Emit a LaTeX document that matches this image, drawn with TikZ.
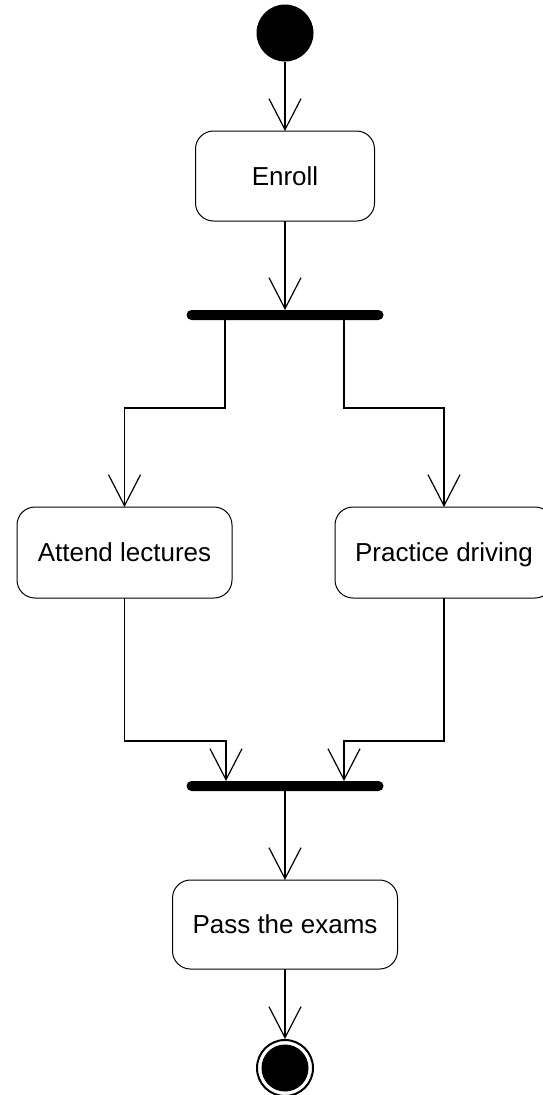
\documentclass[tikz,border=0pt]{standalone}
\usepackage{fontspec}
\setmainfont{Liberation Sans}
\usetikzlibrary{arrows.meta}
\begin{document}
\begin{tikzpicture}[x=1pt,y=-1pt,
  font=\fontsize{26pt}{30pt}\selectfont,
  act/.style={draw, line width=1pt, rounded corners=18pt, inner sep=0pt, outer sep=0pt,
    text height=18.7pt, text depth=0pt},
  bar/.style={fill=black, rounded corners=5pt, minimum width=197pt, minimum height=10pt, inner sep=0pt, outer sep=0pt},
  startnode/.style={circle, fill=black, minimum size=57pt, inner sep=0pt, outer sep=0pt},
  endnode/.style={circle, draw, line width=2pt, minimum size=56pt, inner sep=0pt, outer sep=1pt,
    path picture={\fill (path picture bounding box.center) circle (23.5pt);}},
  arr/.style={line width=1.2pt, -{Straight Barb[length=31pt,width=32pt]}}]
\useasboundingbox (0,0) rectangle (543,1095);
% activity nodes
\node[startnode] (start) at (285,33) {};
\node[act, minimum width=179pt, minimum height=90pt] (enroll) at (285,176) {Enroll};
\node[bar] (fork) at (285,315) {};
\node[act, minimum width=215pt, minimum height=91pt] (attend) at (124.5,552.5) {Attend lectures};
\node[act, minimum width=218pt, minimum height=91pt] (practice) at (444,552.5) {Practice driving};
\node[bar] (join) at (285,786) {};
\node[act, minimum width=225pt, minimum height=89pt] (pass) at (285,924.5) {Pass the exams};
\node[endnode] (end) at (285,1068) {};
% bend points of the fork and join branches
\coordinate (fa) at (225,408);
\coordinate (fb) at (344,408);
\coordinate (ja) at (226,741);
\coordinate (jb) at (344,741);
% connectors
\draw[arr] (start) -- (enroll);
\draw[arr] (enroll) -- (fork);
\draw[arr] (fork.south -| fa) -- (fa) -| (attend.north);
\draw[arr] (fork.south -| fb) -- (fb) -| (practice.north);
\draw[arr] (attend.south) |- (ja) -- (join.north -| ja);
\draw[arr] (practice.south) |- (jb) -- (join.north -| jb);
\draw[arr] (join) -- (pass);
\draw[arr] (pass) -- (end);
\end{tikzpicture}
\end{document}
